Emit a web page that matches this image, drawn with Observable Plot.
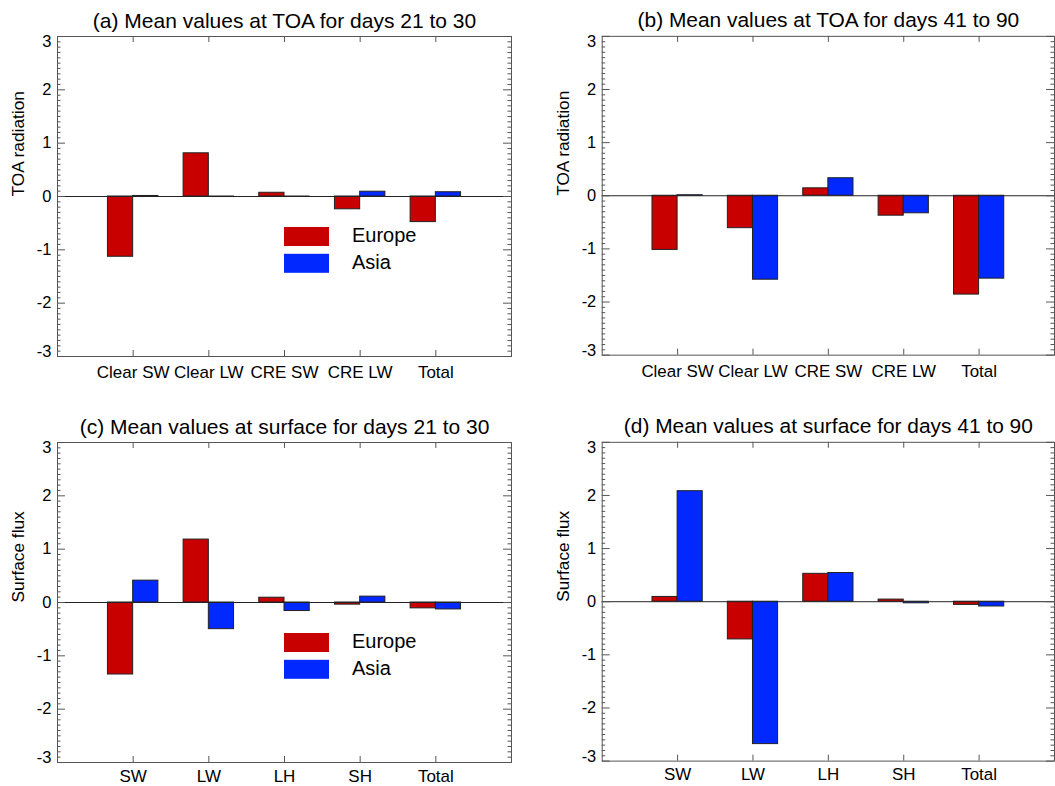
<!DOCTYPE html>
<html><head><meta charset="utf-8">
<script src="https://cdn.jsdelivr.net/npm/d3@7"></script>
<script src="https://cdn.jsdelivr.net/npm/@observablehq/plot@0.6"></script>
<style>
html,body{margin:0;padding:0;background:#fff;}
#root{position:relative;width:1055px;height:786px;overflow:hidden;background:#fff;}
.panel{position:absolute;}
#legend{position:absolute;left:0;top:0;}
</style></head><body><div id="root"></div>
<script>
// ---- data ----
const catsTOA = ["Clear SW", "Clear LW", "CRE SW", "CRE LW", "Total"];
const catsSfc = ["SW", "LW", "LH", "SH", "Total"];
const regions = ["Europe", "Asia"];
const regionColors = ["#c80000", "#0028ff"];
const yTicks = [-3, -2, -1, 0, 1, 2, 3];

const toa2130Europe = [-1.13, 0.81, 0.07, -0.24, -0.48];
const toa2130Asia   = [0.01, -0.01, -0.005, 0.09, 0.08];
const toa4190Europe = [-1.02, -0.61, 0.14, -0.375, -1.86];
const toa4190Asia   = [0.01, -1.58, 0.33, -0.33, -1.56];
const sfc2130Europe = [-1.35, 1.18, 0.09, -0.04, -0.11];
const sfc2130Asia   = [0.41, -0.50, -0.16, 0.11, -0.13];
const sfc4190Europe = [0.09, -0.71, 0.525, 0.04, -0.06];
const sfc4190Asia   = [2.08, -2.68, 0.54, -0.03, -0.09];

const FONT = "'Liberation Sans', Arial, Helvetica, sans-serif";
const FRAME = "#555";
const BAR = 1/3;

function panel({cats, europe, asia, title, ylabel, left, top, width, height, ml, mr, mt, mb, pad}) {
  const data = cats.flatMap((c, i) => [
    {cat: c, i: i + 1, region: "Europe", v: europe[i]},
    {cat: c, i: i + 1, region: "Asia", v: asia[i]}
  ]);
  const fw = width - ml - mr, fh = height - mt - mb;
  const minor = d3.range(-30, 31).filter(k => k % 10 !== 0).map(k => k / 10);
  const catTicks = cats.map((c, i) => i + 1);
  const inner = yTicks.filter(t => Math.abs(t) < 3);
  const fmt = d => String(d);
  const axisOpts = {tickSize: 0, tickPadding: 6, tickFormat: fmt, fontSize: 16.5, label: null};
  const p = Plot.plot({
    width, height,
    marginLeft: ml, marginRight: mr, marginTop: mt, marginBottom: mb,
    style: {background: "transparent", fontFamily: FONT, color: "#000", overflow: "visible"},
    x: {domain: [0, cats.length + 1], axis: null},
    y: {domain: [d3.min(yTicks), d3.max(yTicks)], axis: null},
    color: {domain: regions, range: regionColors},
    marks: [
      Plot.rect(data, {
        x1: d => d.region === "Europe" ? d.i - BAR : d.i,
        x2: d => d.region === "Europe" ? d.i : d.i + BAR,
        y1: 0, y2: "v", fill: "region", stroke: "#222", strokeWidth: 1
      }),
      Plot.ruleY([0], {stroke: "#222"}),
      Plot.ruleY(minor, {insetRight: fw - 3.5, stroke: FRAME}),
      Plot.ruleY(minor, {insetLeft: fw - 3.5, stroke: FRAME}),
      Plot.ruleY(yTicks, {insetRight: fw - 8, stroke: FRAME}),
      Plot.ruleY(yTicks, {insetLeft: fw - 8, stroke: FRAME}),
      Plot.ruleX(catTicks, {insetTop: fh - 6, stroke: FRAME}),
      Plot.ruleX(catTicks, {insetBottom: fh - 6, stroke: FRAME}),
      Plot.frame({stroke: FRAME}),
      Plot.axisY({...axisOpts, ticks: inner}),
      Plot.axisY({...axisOpts, ticks: [3], dy: 5}),
      Plot.axisY({...axisOpts, ticks: [-3], dy: -4.5}),
      Plot.axisX({ticks: catTicks, tickFormat: i => cats[i - 1], tickSize: 0, tickPadding: pad, fontSize: 17, label: null}),
      Plot.text([title], {text: d => d, frameAnchor: "top", dy: -9, lineAnchor: "bottom", fontSize: 21}),
      Plot.text([ylabel], {text: d => d, frameAnchor: "left", dx: -39, rotate: -90, fontSize: 17.3})
    ]
  });
  const div = document.createElement("div");
  div.className = "panel";
  div.style.left = left + "px";
  div.style.top = top + "px";
  div.appendChild(p);
  document.getElementById("root").appendChild(div);
}

const H = 393;
panel({cats: catsTOA, europe: toa2130Europe, asia: toa2130Asia,
  title: "(a) Mean values at TOA for days 21 to 30", ylabel: "TOA radiation",
  left: 0, top: 0, width: 527, height: H, ml: 57, mr: 16, mt: 36, mb: 37, pad: 9.5});
panel({cats: catsTOA, europe: toa4190Europe, asia: toa4190Asia,
  title: "(b) Mean values at TOA for days 41 to 90", ylabel: "TOA radiation",
  left: 527, top: 0, width: 530, height: H, ml: 75, mr: 1, mt: 36, mb: 37, pad: 9.5});
panel({cats: catsSfc, europe: sfc2130Europe, asia: sfc2130Asia,
  title: "(c) Mean values at surface for days 21 to 30", ylabel: "Surface flux",
  left: 0, top: 393, width: 527, height: H, ml: 57, mr: 16, mt: 49, mb: 24, pad: 7});
panel({cats: catsSfc, europe: sfc4190Europe, asia: sfc4190Asia,
  title: "(d) Mean values at surface for days 41 to 90", ylabel: "Surface flux",
  left: 527, top: 393, width: 530, height: H, ml: 75, mr: 1, mt: 49, mb: 24, pad: 7});

// ---- legends inside panels (a) and (c) ----
const svg = d3.select("#root").append("svg").attr("id", "legend")
  .attr("width", 1055).attr("height", 786).style("pointer-events", "none");
[{top: 227}, {top: 633}].forEach(({top}) => {
  regions.forEach((r, k) => {
    const y = top + k * 26.8;
    svg.append("rect").attr("x", 284).attr("y", y).attr("width", 45).attr("height", 19)
      .attr("fill", regionColors[k]);
    svg.append("text").attr("x", 352).attr("y", y + 15).attr("font-family", FONT)
      .attr("font-size", 20).attr("fill", "#000").text(r);
  });
});
</script>
</body></html>
